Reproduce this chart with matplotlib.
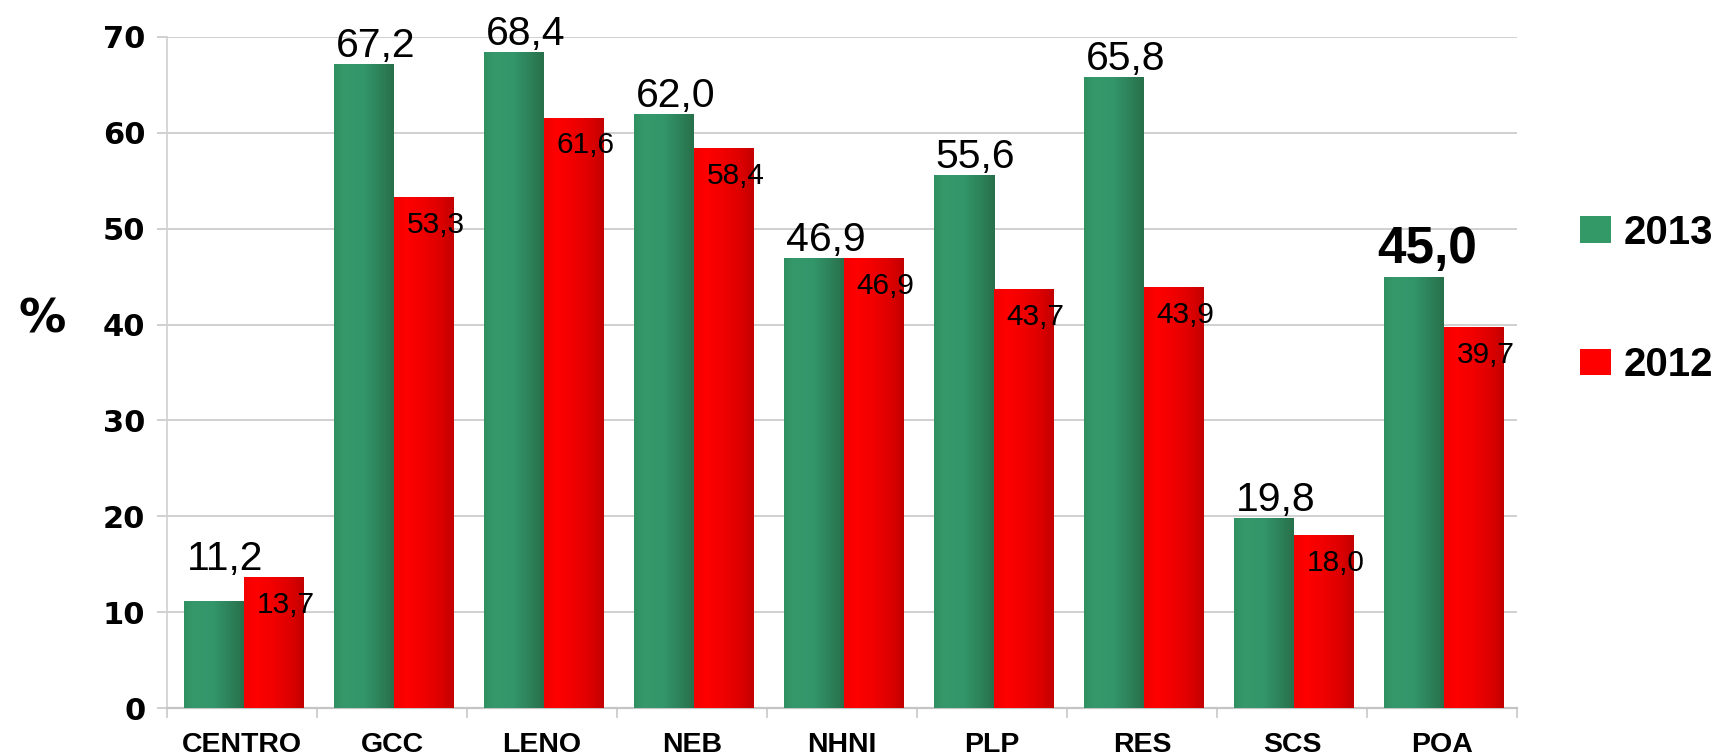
import numpy as np
import matplotlib
matplotlib.use("Agg")
import matplotlib.pyplot as plt
from matplotlib.colors import LinearSegmentedColormap
from matplotlib.patches import Patch

# ---- data ----
categories = ["CENTRO", "GCC", "LENO", "NEB", "NHNI", "PLP", "RES", "SCS", "POA"]
values_2013 = [11.2, 67.2, 68.4, 62.0, 46.9, 55.6, 65.8, 19.8, 45.0]
values_2012 = [13.7, 53.3, 61.6, 58.4, 46.9, 43.7, 43.9, 18.0, 39.7]
series_labels = ["2013", "2012"]
y_ticks = [0, 10, 20, 30, 40, 50, 60, 70]

GREEN = "#339966"
RED = "#FF0000"
GRID = "#d0d0d0"

green_cmap = LinearSegmentedColormap.from_list(
    "g", [(0.0, "#2F8F61"), (0.15, "#36996B"), (0.5, "#33956A"), (0.78, "#2D8159"), (1.0, "#27704A")])
red_cmap = LinearSegmentedColormap.from_list(
    "r", [(0.0, "#F20000"), (0.2, "#FF0000"), (0.5, "#F00000"), (0.8, "#DC0000"), (1.0, "#C20000")])

def fmt(v):
    return f"{v:.1f}".replace(".", ",")

fig = plt.figure(figsize=(17.26, 7.55), dpi=100)
ax = fig.add_axes([167 / 1726, 47 / 755, 1350 / 1726, 671 / 755])

x = np.arange(len(categories))
w = 0.40
off_g, off_r = -0.19, 0.21

bars_g = ax.bar(x + off_g, values_2013, w, color=GREEN, zorder=3, linewidth=0)
bars_r = ax.bar(x + off_r, values_2012, w, color=RED, zorder=3, linewidth=0)

grad = np.linspace(0, 1, 64).reshape(1, -1)
for bars, cmap in ((bars_g, green_cmap), (bars_r, red_cmap)):
    for b in bars:
        x0, h = b.get_x(), b.get_height()
        im = ax.imshow(grad, extent=[x0, x0 + b.get_width(), 0, h], aspect="auto",
                       cmap=cmap, zorder=3.5, interpolation="bilinear")
        im.set_clip_path(b)

ax.set_xlim(-0.5, len(categories) - 0.5)
ax.set_ylim(0, 70)
ax.set_yticks(y_ticks)
ax.yaxis.grid(True, color=GRID, linewidth=1.4, zorder=0)
ax.set_axisbelow(True)

for s in ("top", "right"):
    ax.spines[s].set_visible(False)
ax.spines["left"].set_color(GRID)
ax.spines["left"].set_linewidth(1.2)
ax.spines["bottom"].set_color("#c4c4c4")
ax.spines["bottom"].set_linewidth(1.6)

ax.set_xticks(x)
ax.set_xticklabels(categories, fontfamily="Liberation Sans", fontweight="bold", fontsize=20.5)
ax.set_xticks(np.arange(len(categories) + 1) - 0.5, minor=True)
ax.tick_params(axis="x", which="major", length=0, pad=17)
ax.tick_params(axis="x", which="minor", length=7.5, color="#c8c8c8", width=1.2)
ax.tick_params(axis="y", length=7.5, color="#c8c8c8", width=1.2, pad=8)
for t in ax.get_yticklabels():
    t.set_fontfamily("DejaVu Sans")
    t.set_fontweight("bold")
    t.set_fontsize(22)

ax.set_ylabel("%", rotation=0, fontfamily="DejaVu Sans", fontweight="bold", fontsize=34)
ax.yaxis.set_label_coords(-0.0926, 0.544)

# value labels
last = len(categories) - 1
for i, (g, r) in enumerate(zip(values_2013, values_2012)):
    top = max(g, r)
    if i == last:
        ax.annotate(fmt(g), (x[i] + off_g + 0.09, top), xytext=(0, 10), textcoords="offset points",
                    ha="center", va="baseline", fontfamily="Liberation Sans", fontweight="bold",
                    fontsize=37, zorder=5)
    else:
        ax.annotate(fmt(g), (x[i] + off_g + 0.08, top), xytext=(0, 5), textcoords="offset points",
                    ha="center", va="baseline", fontfamily="Liberation Sans", fontsize=29.5, zorder=5)
    ax.annotate(fmt(r), (x[i] + off_r - w / 2 + 0.087, r), xytext=(0, -10), textcoords="offset points",
                ha="left", va="top", fontfamily="Liberation Sans", fontsize=21.5, zorder=5)

handles = [Patch(facecolor=GREEN), Patch(facecolor=RED)]
fig.legend(handles, series_labels, loc="center left", bbox_to_anchor=(1580 / 1726, 456 / 755),
           frameon=False, prop={"family": "Liberation Sans", "weight": "bold", "size": 29},
           handlelength=0.78, handleheight=0.64, handletextpad=0.3, labelspacing=2.35,
           borderpad=0, borderaxespad=0)

fig.savefig("out.png", dpi=100, facecolor="white")
